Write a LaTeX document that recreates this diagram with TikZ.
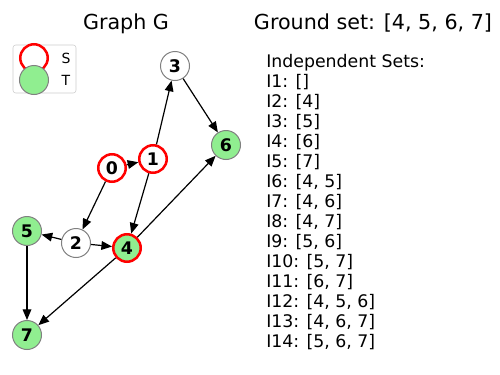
\documentclass[tikz,border=0pt]{standalone}
\usepackage{fontspec}
\setmainfont{DejaVu Sans}
\usepackage{xcolor}
\usetikzlibrary{arrows.meta}
\definecolor{ltgreen}{RGB}{144,238,144}

\begin{document}
\begin{tikzpicture}[x=0.75pt, y=-0.75pt,
  vert/.style={circle, draw=gray, line width=0.75pt, fill=white, minimum size=21.75pt, inner sep=0pt, font=\fontsize{13}{14}\selectfont\bfseries},
  src/.style={draw=red, line width=1.9pt, minimum size=20.6pt},
  tgt/.style={fill=ltgreen},
  arr/.style={-{Triangle[length=8pt, width=6.5pt]}, line width=0.9pt},
  title/.style={anchor=base, font=\fontsize{15.5}{18}\selectfont},
  txt/.style={anchor=base west, font=\fontsize{13}{15}\selectfont, inner sep=0pt}
]
  \useasboundingbox (0,0) rectangle (500,375);

  % titles
  \node[title] (titleG) at (126,29) {Graph G};
  \node[title] (titleI) at (373,29) {Ground set: [4, 5, 6, 7]};

  % legend
  \node[draw=black!20, fill=white, rounded corners=2pt, minimum width=47.25pt, minimum height=36pt] (legbox) at (44.5,69) {};
  \node[vert, src, minimum size=20.6pt] (legS) at (34,58) {};
  \node[vert, tgt] (legT) at (34,80) {};
  \node[font=\fontsize{10.5}{12}\selectfont] (labS) at (66,58) {S};
  \node[font=\fontsize{10.5}{12}\selectfont] (labT) at (66,80) {T};

  % graph
  \node[vert, src] (n0) at (112,168) {0};
  \node[vert, src] (n1) at (153,159) {1};
  \node[vert] (n2) at (76,243) {2};
  \node[vert] (n3) at (175,66) {3};
  \node[vert, src, tgt] (n4) at (127,248) {4};
  \node[vert, tgt] (n5) at (27,231) {5};
  \node[vert, tgt] (n6) at (226,145) {6};
  \node[vert, tgt] (n7) at (27,335) {7};

  \foreach \a/\b in {n0/n1, n0/n2, n1/n3, n1/n4, n3/n6, n2/n5, n2/n4, n4/n6, n4/n7, n5/n7}
    \draw[arr] (\a) -- (\b);

  % independent sets
  \node[txt] (ihead) at (266,67) {Independent Sets:};
  \foreach \s [count=\i] in {{[]}, {[4]}, {[5]}, {[6]}, {[7]}, {[4, 5]}, {[4, 6]}, {[4, 7]}, {[5, 6]}, {[5, 7]}, {[6, 7]}, {[4, 5, 6]}, {[4, 6, 7]}, {[5, 6, 7]}}
    \node[txt] (set\i) at (266,67+20*\i) {I\i: \s};
\end{tikzpicture}
\end{document}
